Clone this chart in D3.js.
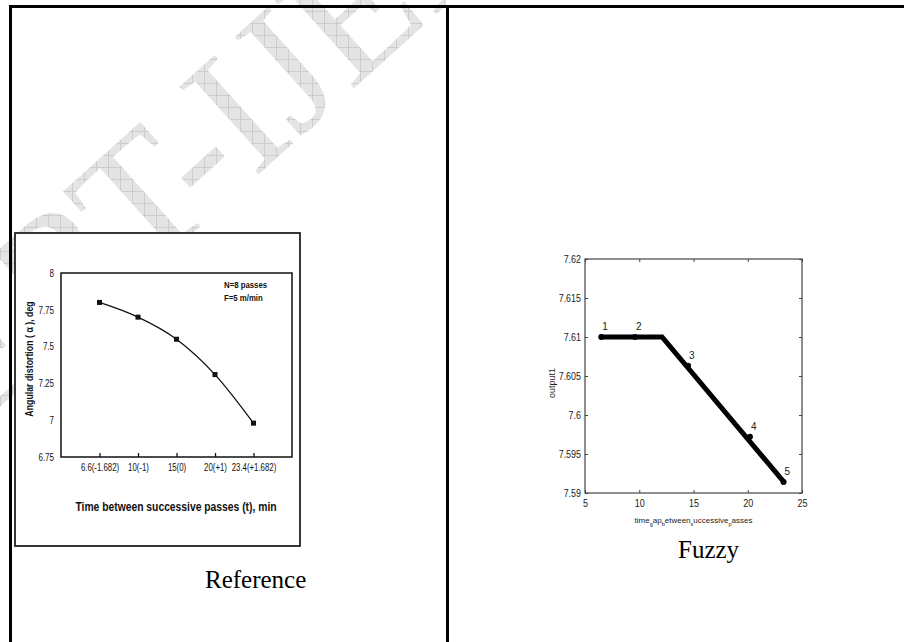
<!DOCTYPE html>
<html>
<head>
<meta charset="utf-8">
<script src="https://cdn.jsdelivr.net/npm/d3@7"></script>
<style>
  body { margin: 0; background: #fff; }
  svg { display: block; }
</style>
</head>
<body>
<div id="page"></div>
<script>
// left cell: reference curve
var timeLabels = ["6.6(-1.682)", "10(-1)", "15(0)", "20(+1)", "23.4(+1.682)"];
var distortion = [7.80, 7.70, 7.55, 7.31, 6.98];
var distTicks = [6.75, 7, 7.25, 7.5, 7.75, 8];

// right cell: fuzzy output
var fuzzyX = [6.4, 12.1, 23.4];
var fuzzyY = [7.61, 7.61, 7.5913];
var ruleX = [6.5, 9.6, 14.5, 20.2, 23.3];
var ruleY = [7.61, 7.61, 7.6063, 7.5972, 7.5914];
var ruleNames = ["1", "2", "3", "4", "5"];
var outTicks = [7.59, 7.595, 7.6, 7.605, 7.61, 7.615, 7.62];
var timeTicks = [5, 10, 15, 20, 25];

// squeeze text horizontally (scanned fonts look condensed)
function squeeze(sel, k) {
  sel.each(function() {
    var w = this.getComputedTextLength();
    d3.select(this).attr("textLength", w * k).attr("lengthAdjust", "spacingAndGlyphs");
  });
}

var svg = d3.select("#page").append("svg")
  .attr("width", 904).attr("height", 642)
  .style("background", "#fff");

// watermark, only inside the left cell
var defs = svg.append("defs");
var pat = defs.append("pattern")
  .attr("id", "hatch").attr("patternUnits", "userSpaceOnUse")
  .attr("width", 12).attr("height", 12)
  .attr("patternTransform", "rotate(42)");
pat.append("rect").attr("width", 12).attr("height", 12).attr("fill", "#e4e4e4");
pat.append("path").attr("d", "M0,0.5H12M0.5,0V12").attr("stroke", "#c8c8c8").attr("stroke-width", 0.8);
defs.append("clipPath").attr("id", "leftcell")
  .append("rect").attr("x", 0).attr("y", 0).attr("width", 446).attr("height", 642);

svg.append("g").attr("clip-path", "url(#leftcell)")
  .append("text")
  .attr("transform", "translate(-120,515) rotate(-42)")
  .style("font", "180px 'Liberation Serif', 'Times New Roman', serif")
  .attr("fill", "url(#hatch)")
  .text("IJERT-IJERT");

// table borders
svg.append("rect").attr("x", 9).attr("y", 5).attr("width", 895).attr("height", 3).attr("fill", "#000");
svg.append("rect").attr("x", 9).attr("y", 5).attr("width", 3).attr("height", 637).attr("fill", "#000");
svg.append("rect").attr("x", 446).attr("y", 5).attr("width", 3).attr("height", 637).attr("fill", "#000");

// ---------------- left chart ----------------
var left = svg.append("g");
left.append("rect")
  .attr("x", 15).attr("y", 233).attr("width", 285).attr("height", 313)
  .attr("fill", "#fff").attr("stroke", "#222").attr("stroke-width", 1.8);

var x = d3.scalePoint().domain(timeLabels).range([61, 292]).padding(1);
var y = d3.scaleLinear().domain([6.75, 8]).range([457, 273]);

left.append("rect")
  .attr("x", x.range()[0]).attr("y", y(8))
  .attr("width", x.range()[1] - x.range()[0]).attr("height", y(6.75) - y(8))
  .attr("fill", "none").attr("stroke", "#111").attr("stroke-width", 1.5);

var xAx = left.append("g")
  .attr("transform", "translate(0," + y(6.75) + ")")
  .call(d3.axisBottom(x).tickSizeInner(-4).tickSizeOuter(0).tickPadding(7));
xAx.select(".domain").remove();
xAx.selectAll("line").attr("stroke", "#111").attr("stroke-width", 1.3);
xAx.selectAll("text").style("font", "10px 'Liberation Sans', Arial, sans-serif").attr("fill", "#111").call(squeeze, 0.78);

var yAx = left.append("g")
  .attr("transform", "translate(" + x.range()[0] + ",0)")
  .call(d3.axisLeft(y).tickValues(distTicks).tickSize(0).tickPadding(7).tickFormat(d3.format("")));
yAx.select(".domain").remove();
yAx.selectAll("text").style("font", "10px 'Liberation Sans', Arial, sans-serif").attr("fill", "#111").call(squeeze, 0.8);

var curve = d3.line()
  .x(function(d, i) { return x(timeLabels[i]); })
  .y(function(d) { return y(d); })
  .curve(d3.curveMonotoneX);

left.append("path")
  .datum(distortion)
  .attr("d", curve)
  .attr("fill", "none").attr("stroke", "#111").attr("stroke-width", 1.3);

left.selectAll("rect.mk")
  .data(distortion)
  .enter().append("rect")
  .attr("class", "mk")
  .attr("x", function(d, i) { return x(timeLabels[i]) - 2.5; })
  .attr("y", function(d) { return y(d) - 2.5; })
  .attr("width", 5).attr("height", 5)
  .attr("fill", "#111");

left.append("text").attr("x", 224).attr("y", 288)
  .style("font", "bold 9.5px 'Liberation Sans', Arial, sans-serif").attr("fill", "#111")
  .text("N=8 passes").call(squeeze, 0.82);
left.append("text").attr("x", 224).attr("y", 301)
  .style("font", "bold 9.5px 'Liberation Sans', Arial, sans-serif").attr("fill", "#111")
  .text("F=5 m/min").call(squeeze, 0.82);

left.append("text")
  .attr("transform", "translate(29,359) rotate(-90)")
  .attr("text-anchor", "middle").attr("dominant-baseline", "central")
  .style("font", "bold 11px 'Liberation Sans', Arial, sans-serif").attr("fill", "#111")
  .text("Angular distortion ( \u03b1 ), deg").call(squeeze, 0.8);

left.append("text")
  .attr("x", 176).attr("y", 511).attr("text-anchor", "middle")
  .style("font", "bold 12px 'Liberation Sans', Arial, sans-serif").attr("fill", "#111")
  .text("Time between successive passes (t), min").call(squeeze, 0.86);

svg.append("text").attr("x", 205).attr("y", 588)
  .style("font", "25px 'Liberation Serif', 'Times New Roman', serif")
  .text("Reference");

// ---------------- right chart ----------------
var right = svg.append("g");
var fx = d3.scaleLinear().domain([5, 25]).range([585, 802]);
var fy = d3.scaleLinear().domain([7.59, 7.62]).range([493, 259]);

right.append("rect")
  .attr("x", fx(5)).attr("y", fy(7.62))
  .attr("width", fx(25) - fx(5)).attr("height", fy(7.59) - fy(7.62))
  .attr("fill", "#fff").attr("stroke", "#444").attr("stroke-width", 1.2);

function styleAxis(g) {
  g.select(".domain").remove();
  g.selectAll("line").attr("stroke", "#444");
  g.selectAll("text").style("font", "10.5px 'Liberation Sans', Arial, sans-serif").attr("fill", "#222");
}

right.append("g").attr("transform", "translate(" + fx(5) + ",0)")
  .call(d3.axisLeft(fy).tickValues(outTicks).tickSizeInner(-3).tickSizeOuter(0).tickPadding(4).tickFormat(d3.format("")))
  .call(styleAxis)
  .selectAll("text").call(squeeze, 0.85);
right.append("g").attr("transform", "translate(" + fx(25) + ",0)")
  .call(d3.axisRight(fy).tickValues(outTicks).tickSizeInner(-3).tickSizeOuter(0).tickFormat(""))
  .call(styleAxis);
right.append("g").attr("transform", "translate(0," + fy(7.59) + ")")
  .call(d3.axisBottom(fx).tickValues(timeTicks).tickSizeInner(-3).tickSizeOuter(0).tickPadding(7).tickFormat(d3.format("")))
  .call(styleAxis)
  .selectAll("text").call(squeeze, 0.85);
right.append("g").attr("transform", "translate(0," + fy(7.62) + ")")
  .call(d3.axisTop(fx).tickValues(timeTicks).tickSizeInner(-3).tickSizeOuter(0).tickFormat(""))
  .call(styleAxis);

var fuzzyLine = d3.line()
  .x(function(d, i) { return fx(fuzzyX[i]); })
  .y(function(d) { return fy(d); });

right.append("path")
  .datum(fuzzyY)
  .attr("d", fuzzyLine)
  .attr("fill", "none").attr("stroke", "#000").attr("stroke-width", 5)
  .attr("stroke-linejoin", "miter");

right.selectAll("circle.rule")
  .data(ruleY)
  .enter().append("circle")
  .attr("class", "rule")
  .attr("cx", function(d, i) { return fx(ruleX[i]); })
  .attr("cy", function(d) { return fy(d); })
  .attr("r", 3).attr("fill", "#000");

right.selectAll("text.rule")
  .data(ruleNames)
  .enter().append("text")
  .attr("class", "rule")
  .attr("x", function(d, i) { return fx(ruleX[i]) + 1; })
  .attr("y", function(d, i) { return fy(ruleY[i]) - 7; })
  .style("font", "10px 'Liberation Sans', Arial, sans-serif").attr("fill", "#222")
  .text(function(d) { return d; });

right.append("text")
  .attr("transform", "translate(552,383) rotate(-90)")
  .attr("text-anchor", "middle").attr("dominant-baseline", "central")
  .style("font", "9px 'Liberation Sans', Arial, sans-serif").attr("fill", "#222")
  .text("output1");

var xt = right.append("text")
  .attr("x", (fx(5) + fx(25)) / 2).attr("y", 523).attr("text-anchor", "middle")
  .style("font", "8px 'Liberation Sans', Arial, sans-serif").attr("fill", "#222");
[["time", 0], ["g", 1], ["ap", 0], ["b", 1], ["etween", 0], ["s", 1], ["uccessive", 0], ["p", 1], ["asses", 0]]
  .forEach(function(p, i, arr) {
    var prevSub = i > 0 && arr[i - 1][1];
    var dy = p[1] ? 3 : (prevSub ? -3 : 0);
    xt.append("tspan").attr("dy", dy).style("font-size", p[1] ? "5.5px" : "8px").text(p[0]);
  });

svg.append("text").attr("x", 678).attr("y", 558)
  .style("font", "25px 'Liberation Serif', 'Times New Roman', serif")
  .text("Fuzzy");
</script>
</body>
</html>
